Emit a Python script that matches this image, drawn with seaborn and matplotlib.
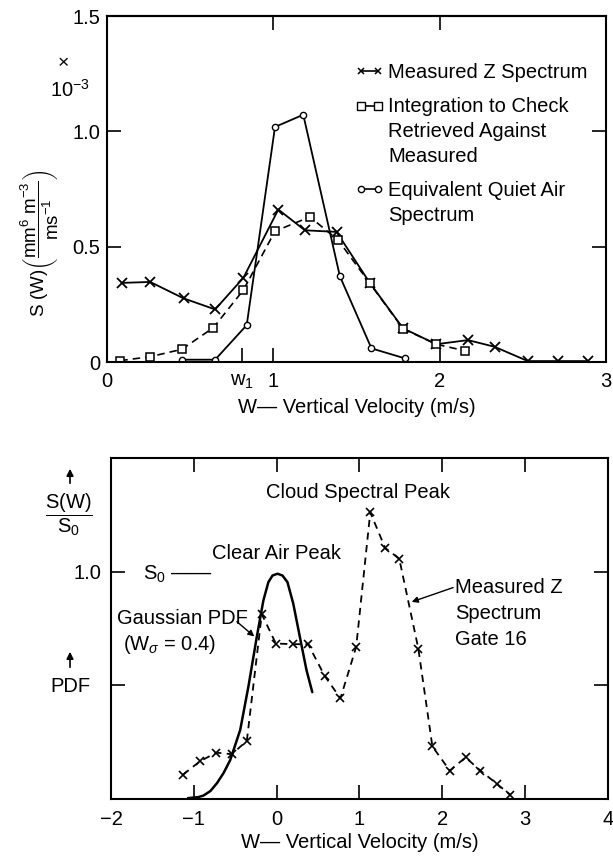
import matplotlib
matplotlib.use("Agg")
import matplotlib.pyplot as plt
import seaborn as sns
from matplotlib.lines import Line2D
from matplotlib.patches import FancyArrowPatch

# ---------------- upper panel: spectra (units of 1e-3) ----------------
w_meas = [0.09, 0.26, 0.46, 0.65, 0.82, 1.03, 1.19, 1.38, 1.58, 1.78,
          1.98, 2.17, 2.33, 2.53, 2.71, 2.89]
s_meas = [0.343, 0.347, 0.276, 0.228, 0.365, 0.661, 0.571, 0.564, 0.343, 0.146,
          0.077, 0.095, 0.066, 0.004, 0.004, 0.004]

w_integ = [0.08, 0.26, 0.45, 0.64, 0.82, 1.01, 1.22, 1.39, 1.58, 1.78, 1.98, 2.15]
s_integ = [0.006, 0.023, 0.055, 0.149, 0.312, 0.567, 0.629, 0.528, 0.341, 0.144,
           0.077, 0.049]

w_quiet = [0.45, 0.65, 0.84, 1.01, 1.18, 1.40, 1.59, 1.79]
s_quiet = [0.010, 0.010, 0.160, 1.019, 1.072, 0.372, 0.059, 0.016]

top_xticks = [0, 0.81, 1, 2, 3]
top_xticklabels = ["0", "w$_1$", "1", "2", "3"]
top_yticks = [0, 0.5, 1.0, 1.5]
top_yticklabels = ["0", "0.5", "1.0", "1.5"]

legend_labels = ["Measured Z Spectrum",
                 "Integration to Check\nRetrieved Against\nMeasured",
                 "Equivalent Quiet Air\nSpectrum"]

# ---------------- lower panel: normalised spectrum, gate 16 ----------------
w_gate = [-1.13, -0.93, -0.73, -0.54, -0.36, -0.18, -0.01, 0.20, 0.38, 0.58,
          0.77, 0.96, 1.13, 1.31, 1.48, 1.71, 1.88, 2.09, 2.28, 2.46, 2.66, 2.82]
s_gate = [0.107, 0.165, 0.204, 0.197, 0.256, 0.813, 0.684, 0.681, 0.681, 0.541,
          0.443, 0.669, 1.261, 1.104, 1.057, 0.662, 0.231, 0.125, 0.183, 0.125,
          0.066, 0.019]

w_pdf = [-1.07, -0.95, -0.885, -0.80, -0.72, -0.64, -0.56, -0.44, -0.34, -0.24,
         -0.16, -0.10, -0.05, 0.01, 0.07, 0.13, 0.20, 0.28, 0.36, 0.43]
s_pdf = [0.004, 0.008, 0.015, 0.035, 0.070, 0.115, 0.172, 0.304, 0.497, 0.713,
         0.874, 0.954, 0.983, 0.991, 0.983, 0.954, 0.860, 0.713, 0.567, 0.470]

bot_xticks = [-2, -1, 0, 1, 2, 3, 4]
bot_xticklabels = ["\u22122", "\u22121", "0", "1", "2", "3", "4"]
bot_yticks = [0.5, 1.0]
bot_yticklabels = ["", "1.0"]

# ---------------- style ----------------
sns.set_theme(style="ticks")
plt.rcParams["font.family"] = ["Liberation Sans", "DejaVu Sans"]
plt.rcParams.update({
    "mathtext.fontset": "custom",
    "mathtext.rm": "Liberation Sans",
    "mathtext.it": "Liberation Sans:italic",
    "mathtext.bf": "Liberation Sans:bold",
    "font.size": 14.5,
    "axes.linewidth": 1.5,
    "axes.edgecolor": "black",
    "xtick.color": "black",
    "ytick.color": "black",
    "text.color": "black",
    "axes.labelcolor": "black",
})

FS = 14.5
fig = plt.figure(figsize=(6.13, 8.59), dpi=100)
W, H = 613.0, 859.0
ax1 = fig.add_axes([107 / W, 1 - 362 / H, (606 - 107) / W, (362 - 16) / H])
ax2 = fig.add_axes([111 / W, 1 - 799 / H, (608 - 111) / W, (799 - 458) / H])

# ---------------- upper panel ----------------
sns.lineplot(x=w_meas, y=s_meas, ax=ax1, color="black", lw=1.3, sort=False,
             estimator=None, marker="x", markersize=6.5, markeredgewidth=1.3,
             markeredgecolor="black")
sns.lineplot(x=w_integ, y=s_integ, ax=ax1, color="black", lw=1.2, sort=False,
             estimator=None, linestyle=(0, (4.5, 3)), marker="s", markersize=6,
             markerfacecolor="white", markeredgecolor="black", markeredgewidth=1.1)
sns.lineplot(x=w_quiet, y=s_quiet, ax=ax1, color="black", lw=1.3, sort=False,
             estimator=None, marker="o", markersize=4.5,
             markerfacecolor="white", markeredgecolor="black", markeredgewidth=1.0)

ax1.set_xlim(0, 3)
ax1.set_ylim(0, 1.5)
ax1.set_xticks(top_xticks)
ax1.set_xticklabels(top_xticklabels, fontsize=FS)
ax1.set_yticks(top_yticks)
ax1.set_yticklabels(top_yticklabels, fontsize=FS)
ax1.tick_params(axis="both", direction="in", length=10, width=1.2, pad=7)
ax1.tick_params(axis="y", right=True, pad=5)
top_sec = ax1.secondary_xaxis("top")
top_sec.set_xticks([1, 2])
top_sec.set_xticklabels([])
top_sec.tick_params(direction="in", length=10, width=1.2)
ax1.set_xlabel("W\u2014 Vertical Velocity (m/s)", fontsize=FS, labelpad=5)
ax1.set_ylabel("")

handles = [
    Line2D([], [], color="black", lw=1.2, marker="x", markersize=5,
           markeredgewidth=1.1),
    Line2D([], [], color="black", lw=1.2, marker="s", markersize=5.5,
           markerfacecolor="white", markeredgewidth=1.0),
    Line2D([], [], color="black", lw=1.2, marker="o", markersize=4.5,
           markerfacecolor="white", markeredgewidth=1.0),
]
leg = ax1.legend(handles, legend_labels, loc="upper left",
                 bbox_to_anchor=(355 / W, 1 - 63 / H),
                 bbox_transform=fig.transFigure,
                 frameon=False, borderpad=0, borderaxespad=0, handlelength=1.45,
                 handleheight=1.1, handletextpad=0.2, labelspacing=0.75,
                 fontsize=FS, numpoints=2)
for t in leg.get_texts():
    t.set_linespacing(1.38)
# put each key beside the first line of its (multi-line) label
for column in leg._legend_handle_box.get_children():
    for row in column.get_children():
        row.align = "top"

fig.text(63 / W, 1 - 64 / H, "\u00d7", ha="center", va="center", fontsize=14)
fig.text(70 / W, 1 - 90 / H, "10$^{-3}$", ha="center", va="center", fontsize=FS)
fig.text(40 / W, 1 - 243 / H,
         r"S (W)$\left(\dfrac{\mathrm{mm^6\ m^{-3}}}{\mathrm{ms^{-1}}}\right)$",
         rotation=90, ha="center", va="center", fontsize=13.5)

# ---------------- lower panel ----------------
sns.lineplot(x=w_pdf, y=s_pdf, ax=ax2, color="black", lw=1.8, sort=False,
             estimator=None)
sns.lineplot(x=w_gate, y=s_gate, ax=ax2, color="black", lw=1.3, sort=False,
             estimator=None, linestyle=(0, (4, 3)), marker="x", markersize=6,
             markeredgewidth=1.2, markeredgecolor="black")

ax2.set_xlim(-2, 4)
ax2.set_ylim(0, 1.5)
ax2.set_xticks(bot_xticks)
ax2.set_xticklabels(bot_xticklabels, fontsize=FS)
ax2.set_yticks(bot_yticks)
ax2.set_yticklabels(bot_yticklabels, fontsize=FS)
ax2.tick_params(axis="both", direction="in", length=10, width=1.2, pad=8,
                top=True, right=True)
ax2.tick_params(axis="y", pad=7)
ax2.set_xlabel("W\u2014 Vertical Velocity (m/s)", fontsize=FS, labelpad=3)
ax2.set_ylabel("")

ax2.text(0.98, 1.348, "Cloud Spectral Peak", ha="center", va="center", fontsize=FS)
ax2.text(-0.007, 1.08, "Clear Air Peak", ha="center", va="center", fontsize=FS)
ax2.text(-1.61, 0.99, "S$_0$ \u2014\u2014", ha="left", va="center", fontsize=FS)
ax2.text(-1.93, 0.795, "Gaussian PDF", ha="left", va="center", fontsize=FS)
ax2.text(-1.855, 0.681, r"(W$_{\sigma}$ = 0.4)", ha="left", va="center", fontsize=FS)
ax2.annotate("", xy=(-0.27, 0.715), xytext=(-0.48, 0.78),
             arrowprops=dict(arrowstyle="-|>", color="black", lw=1.0,
                             mutation_scale=9, shrinkA=0, shrinkB=0))
ax2.text(2.155, 0.815, "Measured Z\nSpectrum\nGate 16", ha="left", va="center",
         fontsize=FS, linespacing=1.45)
ax2.annotate("", xy=(1.63, 0.867), xytext=(2.13, 0.93),
             arrowprops=dict(arrowstyle="-|>", color="black", lw=1.0,
                             mutation_scale=9, shrinkA=0, shrinkB=0))

# y-axis annotations to the left of the lower panel
fig.text(69 / W, 1 - 515 / H, r"$\dfrac{\mathrm{S(W)}}{\mathrm{S_0}}$",
         ha="center", va="center", fontsize=FS)
fig.text(70 / W, 1 - 686 / H, "PDF", ha="center", va="center", fontsize=FS)
for y0, y1 in [(486, 466), (670, 649)]:
    fig.add_artist(FancyArrowPatch(
        (70 / W, 1 - y0 / H), (70 / W, 1 - y1 / H), transform=fig.transFigure,
        arrowstyle="-|>", mutation_scale=10, color="black", lw=1.2))

fig.savefig("out.png", dpi=100)
